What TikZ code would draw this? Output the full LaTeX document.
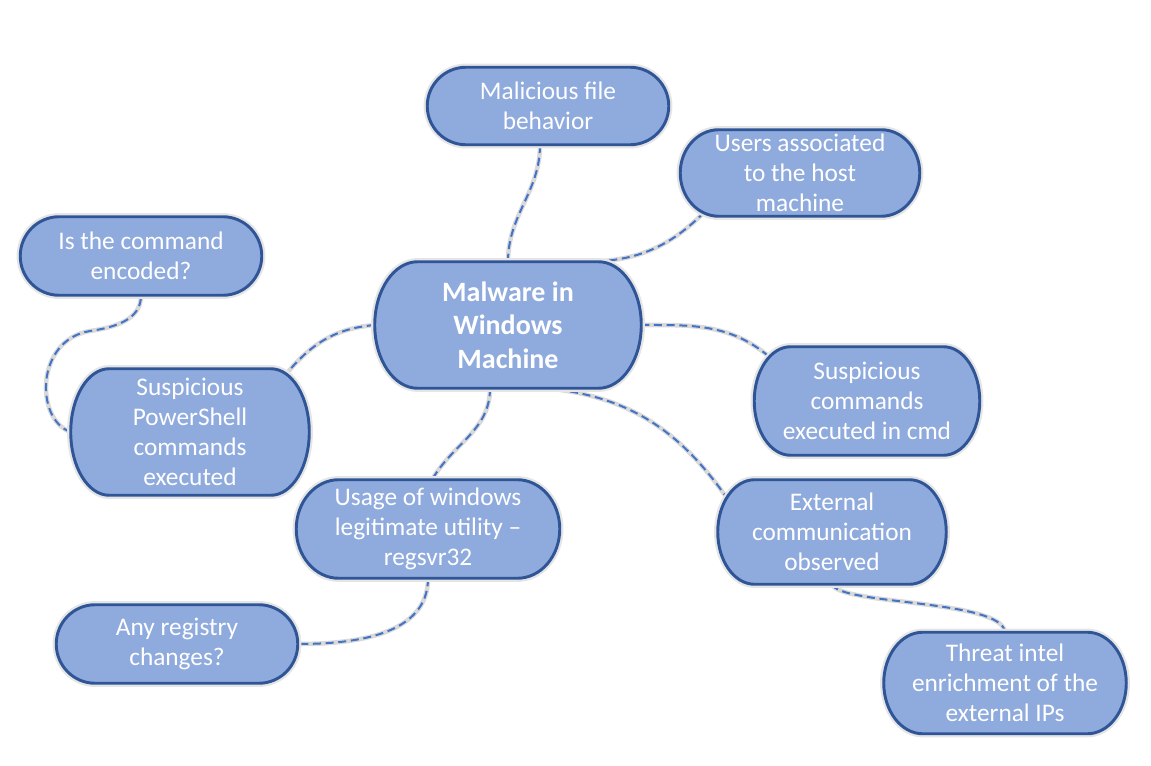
\documentclass[tikz,border=0pt]{standalone}
\usepackage{fontspec}
\setmainfont{Carlito}
\usetikzlibrary{calc}

\definecolor{boxfill}{HTML}{8FAADC}
\definecolor{boxline}{HTML}{2F5597}
\definecolor{linkblue}{HTML}{4472C4}

\pgfdeclarelayer{edges}
\pgfdeclarelayer{shapes}
\pgfsetlayers{edges,shapes,main}

\tikzset{
  idea/.style={align=center, text=white, inner sep=0pt, font=\fontsize{19}{22.6}\selectfont},
  hubtext/.style={idea, font=\bfseries\fontsize{21}{25.2}\selectfont},
  sz/.style 2 args={minimum width=#1*0.75pt, minimum height=#2*0.75pt},
  boxshape/.style={fill=boxfill, draw=boxline, line width=2.2pt, preaction={draw=black!10, line width=5.5pt}},
  link/.style={draw=linkblue, line width=1.5pt, dash pattern=on 6pt off 3.5pt,
    preaction={draw=black!15, solid, line width=3.4pt}},
}

% terminator outline behind a named node
\newcommand{\termbox}[1]{%
  \begin{pgfonlayer}{shapes}
  \path[boxshape] let \p1=(#1.north west), \p2=(#1.south east),
      \n1={0.161*(\x2-\x1)}, \n2={0.5*(\y1-\y2)} in
    (\x1+\n1,\y1) -- (\x2-\n1,\y1)
    arc[start angle=90, end angle=-90, x radius=\n1, y radius=\n2]
    -- (\x1+\n1,\y2)
    arc[start angle=270, end angle=90, x radius=\n1, y radius=\n2] -- cycle;
  \end{pgfonlayer}}

\begin{document}
\begin{tikzpicture}[x=0.75pt, y=0.75pt]
  \useasboundingbox (0,0) rectangle (1151,-766);

  % central topic
  \node[hubtext, sz={266}{126}] (hub) at (508,-325) {Malware in\\Windows\\Machine};

  % branches
  \node[idea, sz={241}{77}]  (mal)   at (548,-106)  {Malicious file\\behavior};
  \node[idea, sz={239}{86}]  (users) at (800,-173)  {Users associated\\to the host\\machine};
  \node[idea, sz={241}{78}]  (enc)   at (141,-256)  {Is the command\\encoded?};
  \node[idea, sz={238}{126}] (ps)    at (190,-432)  {Suspicious\\PowerShell\\commands\\executed};
  \node[idea, sz={225}{108}] (cmd)   at (867,-401)  {Suspicious\\commands\\executed in cmd};
  \node[idea, sz={263}{98}]  (usage) at (428,-529)  {Usage of windows\\legitimate utility --\\regsvr32};
  \node[idea, sz={228}{104}] (ext)   at (832,-532)  {External\\communication\\observed};
  \node[idea, sz={241}{78}]  (reg)   at (177,-644)  {Any registry\\changes?};
  \node[idea, sz={242}{101}] (intel) at (1005,-683) {Threat intel\\enrichment of the\\external IPs};

  \foreach \nm in {hub,mal,users,enc,ps,cmd,usage,ext,reg,intel} {\termbox{\nm}}

  % connectors
  \begin{pgfonlayer}{edges}
    \draw[link] (hub.north) to[out=90, in=-90] ($(mal.south)+(-8,0)$);
    \draw[link] ($(hub.north)+(76,0)$) to[out=0, in=-135] ($(users.south west)+(24,4)$);
    \draw[link] (hub.west) to[out=185, in=50] ($(ps.north east)+(-22,-4)$);
    \draw[link] (ps.west) .. controls (35,-420) and (35,-340) .. (90,-331)
                          .. controls (125,-326) and (141,-315) .. (enc.south);
    \draw[link] (hub.east) to[out=0, in=140] ($(cmd.north west)+(15,-10)$);
    \draw[link] ($(hub.south)+(-18,0)$) to[out=-90, in=60] ($(usage.north)+(4,0)$);
    \draw[link] ($(hub.south)+(37,0)$) to[out=-5, in=125] ($(ext.north west)+(9,-18)$);
    \draw[link] (usage.south) to[out=-90, in=0] (reg.east);
    \draw[link] (ext.south) .. controls +(8,-21) and +(-3,33) .. (intel.north);
  \end{pgfonlayer}
\end{tikzpicture}
\end{document}
